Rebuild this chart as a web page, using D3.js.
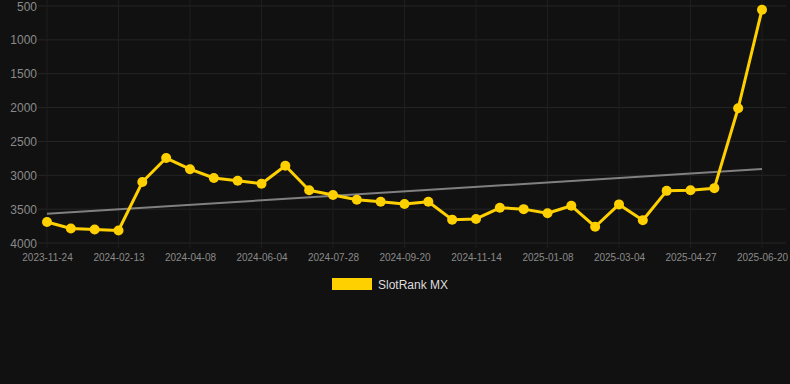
<!DOCTYPE html>
<html><head><meta charset="utf-8">
<script src="https://cdn.jsdelivr.net/npm/d3@7"></script>
<style>html,body{margin:0;padding:0;background:#111111;}svg{display:block;}</style>
</head><body>
<svg id="c" width="790" height="384"></svg>
<script>
const dates = ["2023-11-24","2023-12-21","2024-01-17","2024-02-13","2024-03-02","2024-03-20","2024-04-08","2024-04-27","2024-05-16","2024-06-04","2024-06-22","2024-07-10","2024-07-28","2024-08-15","2024-09-02","2024-09-20","2024-10-08","2024-10-27","2024-11-14","2024-12-02","2024-12-21","2025-01-08","2025-01-26","2025-02-14","2025-03-04","2025-03-22","2025-04-09","2025-04-27","2025-05-15","2025-06-02","2025-06-20"];
const rankValues = [3690,3785,3800,3815,3100,2745,2910,3040,3080,3125,2860,3220,3290,3360,3390,3425,3390,3655,3645,3480,3500,3560,3450,3760,3430,3665,3230,3220,3190,2010,555];
const yTicks = [500,1000,1500,2000,2500,3000,3500,4000];
const seriesName = "SlotRank MX";

const svg = d3.select("#c");
const W = 790, H = 384;
svg.append("rect").attr("width",W).attr("height",H).attr("fill","#111111");

const x = d3.scalePoint().domain(dates).range([47,762]);
const y = d3.scaleLinear().domain([500,4000]).range([6,243]);
const gridL = 38, gridR = 786;

// grid
const g = svg.append("g");
g.selectAll("line.h").data(yTicks).enter().append("line")
  .attr("x1",gridL).attr("x2",gridR).attr("y1",d=>y(d)).attr("y2",d=>y(d))
  .attr("stroke","#262626").attr("stroke-width",1);
const labeled = dates.filter((d,i)=>i%3===0);
g.selectAll("line.v").data(labeled).enter().append("line")
  .attr("x1",d=>x(d)).attr("x2",d=>x(d)).attr("y1",0).attr("y2",y(4000)+5)
  .attr("stroke","#1f1f1f").attr("stroke-width",1);

// axes
const yAxis = d3.axisLeft(y).tickValues(yTicks).tickFormat(d3.format("d")).tickSize(0).tickPadding(0);
const ya = svg.append("g").attr("transform","translate(37,0)").call(yAxis);
ya.select(".domain").remove();
ya.selectAll("text").attr("fill","#8a8a8a").attr("font-size","12px").attr("font-family","Liberation Sans, Arial, sans-serif").attr("dy","0.34em");

const xAxis = d3.axisBottom(x).tickValues(labeled).tickSize(0).tickPadding(0);
const xa = svg.append("g").attr("transform","translate(0,254)").call(xAxis);
xa.select(".domain").remove();
xa.selectAll("text").attr("fill","#8a8a8a").attr("font-size","10px").attr("font-family","Liberation Sans, Arial, sans-serif").attr("dy","0.71em");

// trend (linear regression)
const n = rankValues.length;
const idx = d3.range(n);
const mx = d3.mean(idx), my = d3.mean(rankValues);
const slope = d3.sum(idx, i => (i-mx)*(rankValues[i]-my)) / d3.sum(idx, i => (i-mx)*(i-mx));
const icpt = my - slope*mx;
svg.append("line")
  .attr("x1",x(dates[0])).attr("y1",y(icpt))
  .attr("x2",x(dates[n-1])).attr("y2",y(icpt+slope*(n-1)))
  .attr("stroke","#808080").attr("stroke-width",2);

// line
const line = d3.line().x((d,i)=>x(dates[i])).y(d=>y(d));
svg.append("path").datum(rankValues).attr("d",line)
  .attr("fill","none").attr("stroke","#FFD000").attr("stroke-width",3).attr("stroke-linejoin","round");
svg.selectAll("circle.p").data(rankValues).enter().append("circle")
  .attr("cx",(d,i)=>x(dates[i])).attr("cy",d=>y(d)).attr("r",5).attr("fill","#FFD000");

// legend
svg.append("rect").attr("x",332).attr("y",278).attr("width",40).attr("height",12).attr("fill","#FFD000");
svg.append("text").attr("x",378).attr("y",288.5).text(seriesName)
  .attr("fill","#dddddd").attr("font-size","12px").attr("font-family","Liberation Sans, Arial, sans-serif");
</script>
</body></html>
